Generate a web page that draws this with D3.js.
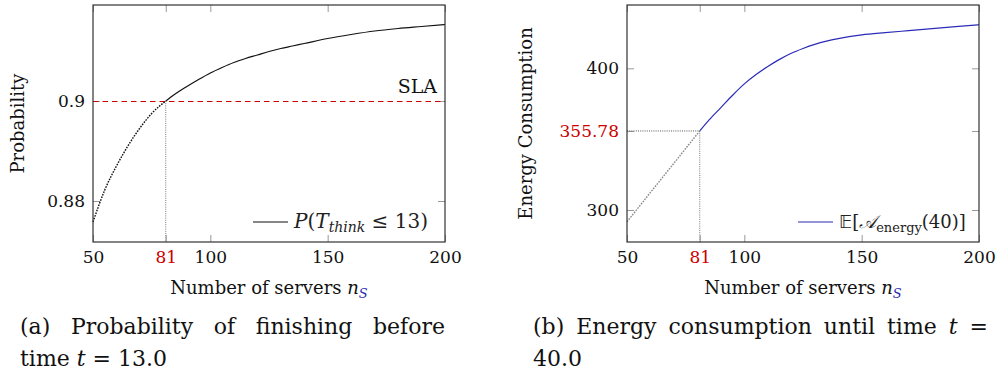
<!DOCTYPE html>
<html>
<head>
<meta charset="utf-8">
<script src="https://cdn.jsdelivr.net/npm/d3@7"></script>
<style>
  body { margin: 0; background: #fff; }
  svg { display: block; }
  text { font-family: "DejaVu Serif", serif; }
  .math { font-family: "DejaVu Serif", "DejaVu Sans", serif; font-style: italic; }
</style>
</head>
<body>
<svg id="chart" width="997" height="380"></svg>
<script>
'use strict';

// number of servers n_S (shared by both panels)
const servers = [50, 55, 60, 65, 70, 75, 81, 85, 90, 95, 100, 105, 110, 115, 120,
  125, 130, 135, 140, 150, 160, 170, 180, 190, 200];

// P(T_think <= 13)
const probThink = [0.8758, 0.8822, 0.8870, 0.8911, 0.8946, 0.8975, 0.9000, 0.9014,
  0.9029, 0.9043, 0.9056, 0.9067, 0.9077, 0.9085, 0.9092, 0.9099, 0.9105, 0.9110,
  0.9115, 0.9125, 0.9133, 0.9140, 0.9145, 0.9149, 0.9153];

// E[A_energy(40)]
const energy = [291.7, 302.0, 312.4, 322.7, 333.0, 343.4, 355.78, 363.6, 372.3,
  381.0, 389.0, 395.6, 401.3, 406.3, 410.6, 414.0, 416.9, 419.2, 421.0, 423.6,
  425.2, 426.6, 428.0, 429.4, 430.8];

const xTicks = [50, 81, 100, 150, 200];
const probTicks = [0.88, 0.9];
const energyTicks = [300, 355.78, 400];

const slaLevel = 0.9;
const nOpt = 81;
const energyAtOpt = 355.78;

const RED = '#cc0000';
const BLUE = '#2b2bb8';
const INK = '#111';
const svg = d3.select('#chart');

// stretch the spaces of a caption line so it fills the column (like LaTeX justification)
const justify = (t, width) => {
  const natural = t.node().getComputedTextLength();
  const spaces = (t.text().match(/ /g) || []).length;
  if (spaces > 0 && natural < width) {
    t.style('word-spacing', `${(width - natural) / spaces}px`);
  }
};

const drawPanel = (cfg) => {
  const g = svg.append('g');
  const x = d3.scaleLinear().domain([50, 200]).range([cfg.left, cfg.right]);
  const y = d3.scaleLinear().domain(cfg.yDomain).range([cfg.bottom, cfg.top]);
  const tk = 7;

  // ticks (pgfplots style, pointing inward on all four sides)
  const axB = g.append('g').attr('transform', `translate(0,${cfg.bottom})`)
    .call(d3.axisBottom(x).tickValues(xTicks).tickSize(-tk).tickSizeOuter(0).tickPadding(9));
  g.append('g').attr('transform', `translate(0,${cfg.top})`)
    .call(d3.axisTop(x).tickValues(xTicks).tickSize(-tk).tickSizeOuter(0).tickFormat(''));
  const axL = g.append('g').attr('transform', `translate(${cfg.left},0)`)
    .call(d3.axisLeft(y).tickValues(cfg.yTicks).tickSize(-tk).tickSizeOuter(0).tickPadding(8)
      .tickFormat(d => String(d)));
  g.append('g').attr('transform', `translate(${cfg.right},0)`)
    .call(d3.axisRight(y).tickValues(cfg.yTicks).tickSize(-tk).tickSizeOuter(0).tickFormat(''));
  g.selectAll('.domain').remove();
  g.selectAll('.tick line').attr('stroke', '#999');
  g.selectAll('.tick text')
    .style('font-family', '"DejaVu Serif", serif').style('font-size', '17px').style('fill', INK);
  axB.selectAll('.tick text').style('fill', d => d === nOpt ? RED : INK);
  axL.selectAll('.tick text').style('fill', d => cfg.redY.includes(d) ? RED : INK);

  const k = servers.indexOf(nOpt);
  const before = cfg.values.slice(0, k + 1);
  const after = cfg.values.slice(k);
  const yOpt = cfg.values[k];

  // helper lines at n_S = 81
  g.append('line')
    .attr('x1', x(nOpt)).attr('x2', x(nOpt)).attr('y1', y(yOpt)).attr('y2', cfg.bottom)
    .attr('stroke', '#777').attr('stroke-width', 1).attr('stroke-dasharray', '1 1.2');
  if (cfg.hGuide) {
    g.append('line')
      .attr('x1', cfg.left).attr('x2', x(nOpt)).attr('y1', y(yOpt)).attr('y2', y(yOpt))
      .attr('stroke', '#555').attr('stroke-width', 1).attr('stroke-dasharray', '1 1.2');
  }
  if (cfg.sla) {
    const ys = Math.round(y(slaLevel)) + 0.5;
    g.append('line')
      .attr('x1', cfg.left).attr('x2', cfg.right).attr('y1', ys).attr('y2', ys)
      .attr('stroke', RED).attr('stroke-width', 1).attr('stroke-dasharray', '5.5 4');
    g.append('text').attr('x', cfg.right - 8).attr('y', y(slaLevel) - 8)
      .attr('text-anchor', 'end').style('font-size', '19px').style('fill', INK).text('SLA');
  }

  // curve: dotted below n_S = 81, solid above
  g.append('path').datum(before)
    .attr('d', d3.line().x((v, i) => x(servers[i])).y(v => y(v)).curve(d3.curveMonotoneX))
    .attr('fill', 'none').attr('stroke', cfg.dotColor).attr('stroke-width', 1.4)
    .attr('stroke-dasharray', '1.6 1.2');
  g.append('path').datum(after)
    .attr('d', d3.line().x((v, i) => x(servers[i + k])).y(v => y(v)).curve(d3.curveMonotoneX))
    .attr('fill', 'none').attr('stroke', cfg.color).attr('stroke-width', 1.2);

  // frame
  g.append('rect')
    .attr('x', cfg.left).attr('y', cfg.top)
    .attr('width', cfg.right - cfg.left).attr('height', cfg.bottom - cfg.top)
    .attr('fill', 'none').attr('stroke', '#333').attr('stroke-width', 1.2);

  // legend (no box)
  const ly = cfg.bottom - 20;
  g.append('line').attr('x1', cfg.legendX).attr('x2', cfg.legendX + 35)
    .attr('y1', ly).attr('y2', ly).attr('stroke', cfg.color).attr('stroke-width', 1.2);
  const lt = g.append('text').attr('x', cfg.legendX + 41).attr('y', ly + 6)
    .style('font-size', cfg.legendSize).style('fill', '#222');
  cfg.legend(lt);

  // axis labels
  const xl = g.append('text').attr('x', (cfg.left + cfg.right) / 2).attr('y', 294)
    .attr('text-anchor', 'middle').style('font-size', '18px').style('fill', INK);
  xl.append('tspan').text('Number of servers ');
  xl.append('tspan').attr('class', 'math').text('n');
  xl.append('tspan').attr('class', 'math').style('fill', BLUE).attr('dy', 4)
    .style('font-size', '13px').text('S');

  g.append('text')
    .attr('transform', `translate(${cfg.yLabelX},${(cfg.top + cfg.bottom) / 2}) rotate(-90)`)
    .attr('text-anchor', 'middle').style('font-size', '18px').style('fill', INK).text(cfg.yLabel);

  // caption
  const c1 = g.append('text').attr('x', cfg.capX).attr('y', 334)
    .style('font-size', '22px').style('fill', INK);
  cfg.caption1(c1);
  justify(c1, cfg.capLen);
  const c2 = g.append('text').attr('x', cfg.capX).attr('y', 366)
    .style('font-size', '22px').style('fill', INK);
  cfg.caption2(c2);
};

drawPanel({
  left: 93, right: 445, top: 5, bottom: 242,
  yDomain: [0.8718, 0.9192], yTicks: probTicks, redY: [],
  values: probThink, color: INK, dotColor: INK,
  sla: true, hGuide: false,
  legendX: 253, legendSize: '20px',
  legend: (t) => {
    t.append('tspan').attr('class', 'math').text('P');
    t.append('tspan').text('(');
    t.append('tspan').attr('class', 'math').text('T');
    t.append('tspan').attr('class', 'math').attr('dy', 4).style('font-size', '14px').text('think');
    t.append('tspan').attr('dy', -4).text(' \u2264 13)');
  },
  yLabel: 'Probability', yLabelX: 24,
  capX: 20, capLen: 425,
  caption1: (t) => t.text('(a) Probability of finishing before'),
  caption2: (t) => {
    t.append('tspan').text('time ');
    t.append('tspan').attr('class', 'math').text('t');
    t.append('tspan').text(' = 13.0');
  }
});

drawPanel({
  left: 627, right: 979, top: 5, bottom: 242,
  yDomain: [277.4, 444.7], yTicks: energyTicks, redY: [energyAtOpt],
  values: energy, color: BLUE, dotColor: '#888',
  sla: false, hGuide: true,
  legendX: 798, legendSize: '18px',
  legend: (t) => {
    t.append('tspan').style('font-family', '"DejaVu Sans", serif').text('\u{1D53C}');
    t.append('tspan').text('[');
    t.append('tspan').style('font-family', '"DejaVu Sans", serif').style('font-style', 'italic').text('\u{1D49C}');
    t.append('tspan').attr('dy', 4).style('font-size', '13px').text('energy');
    t.append('tspan').attr('dy', -4).text('(40)]');
  },
  yLabel: 'Energy Consumption', yLabelX: 532,
  capX: 533, capLen: 455,
  caption1: (t) => {
    t.append('tspan').text('(b) Energy consumption until time ');
    t.append('tspan').attr('class', 'math').text('t');
    t.append('tspan').text(' =');
  },
  caption2: (t) => t.text('40.0')
});
</script>
</body>
</html>
